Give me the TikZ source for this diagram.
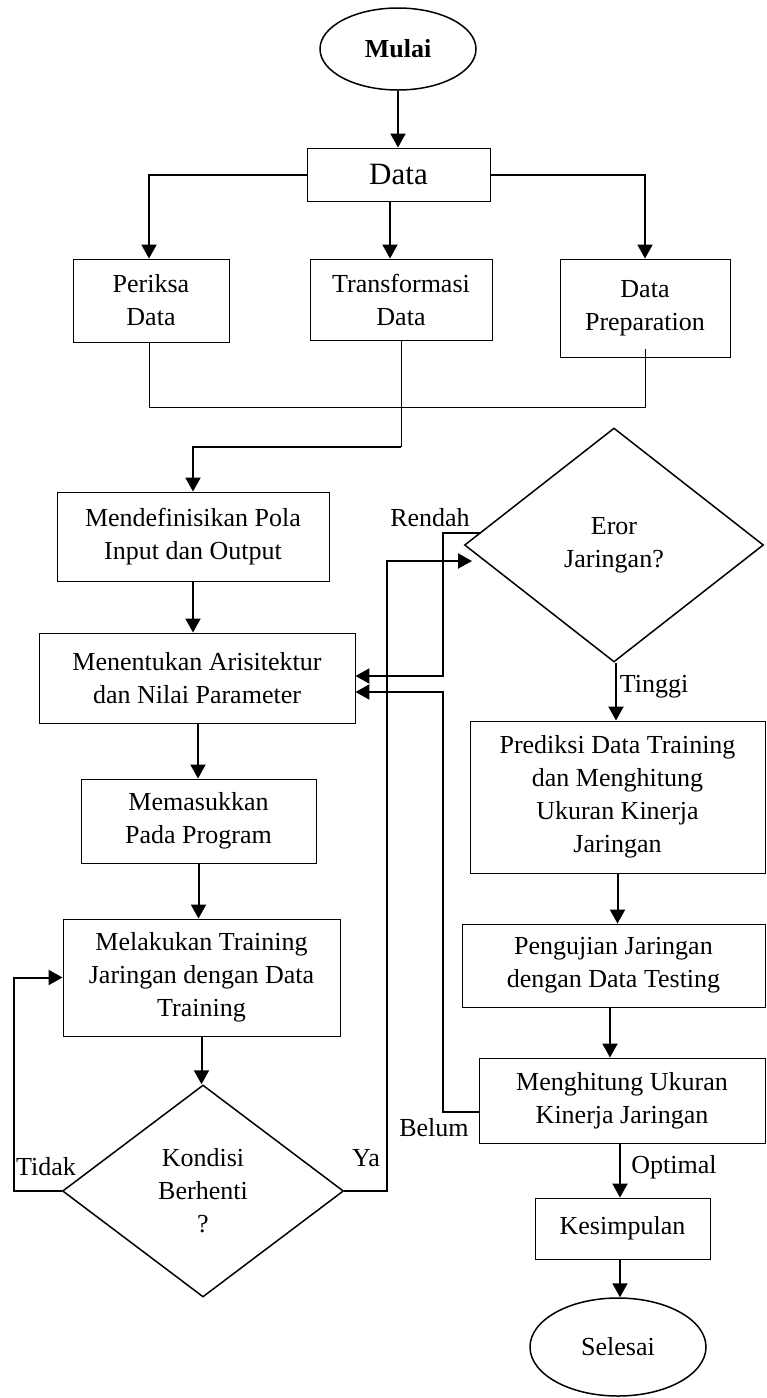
\documentclass[tikz,border=0pt]{standalone}
\usepackage{fontspec}
\setmainfont{Liberation Serif}
\usetikzlibrary{shapes.geometric,arrows.meta}
\begin{document}
\begin{tikzpicture}[x=1pt,y=-1pt,
  txt/.style={font=\fontsize{26}{33}\selectfont},
  box/.style={draw,line width=0.9pt,inner sep=0pt,align=center,txt},
  dia/.style={draw,diamond,line width=1.5pt,inner sep=0pt,align=center,txt},
  oval/.style={draw,ellipse,line width=1.5pt,inner sep=0pt,txt},
  arr/.style={line width=2pt,-{Triangle[length=14pt,width=15pt]}},
  thinline/.style={line width=0.9pt},
  lbl/.style={inner sep=0pt,txt}]
\useasboundingbox (0,0) rectangle (766,1398);
% nodes
\node[oval,minimum width=156pt,minimum height=82pt,font=\fontsize{26}{33}\selectfont\bfseries] (mulai) at (398,49) {Mulai};
\node[box,minimum width=183pt,minimum height=53pt,font=\fontsize{31}{36}\selectfont] (data) at (398.5,174.5) {Data};
\node[box,minimum width=156pt,minimum height=83pt] (periksa) at (151,300.5) {Periksa\\Data};
\node[box,minimum width=182pt,minimum height=81pt] (transf) at (401,299.5) {Transformasi\\Data};
\node[box,minimum width=170pt,minimum height=98pt] (dprep) at (645,308) {Data\\Preparation};
\node[box,minimum width=272pt,minimum height=89pt] (mendef) at (193,536.5) {Mendefinisikan Pola\\Input dan Output};
\node[box,minimum width=316pt,minimum height=90pt] (menent) at (197,678) {Menentukan Arisitektur\\dan Nilai Parameter};
\node[box,minimum width=235pt,minimum height=84pt] (memas) at (198.5,821) {Memasukkan\\Pada Program};
\node[box,minimum width=277pt,minimum height=117pt] (melak) at (201.5,977.5) {Melakukan Training\\Jaringan dengan Data\\Training};
\node[dia,minimum width=281pt,minimum height=212pt] (kondisi) at (203,1191) {Kondisi\\Berhenti\\?};
\node[dia,minimum width=299pt,minimum height=234pt] (eror) at (614,545) {Eror\\Jaringan?};
\node[box,minimum width=295pt,minimum height=152pt] (prediksi) at (617.5,797) {Prediksi Data Training\\dan Menghitung\\Ukuran Kinerja\\Jaringan};
\node[box,minimum width=303pt,minimum height=83pt] (penguj) at (613.5,965.5) {Pengujian Jaringan\\dengan Data Testing};
\node[box,minimum width=286pt,minimum height=85pt] (menghit) at (622,1100.5) {Menghitung Ukuran\\Kinerja Jaringan};
\node[box,minimum width=175pt,minimum height=61pt] (kesimp) at (622.5,1228.5) {Kesimpulan};
\node[oval,minimum width=176pt,minimum height=98pt] (selesai) at (618,1347) {Selesai};
% coordinates
\coordinate (jl) at (149,407);
\coordinate (jr) at (645,407);
\coordinate (jm) at (401,447);
\coordinate (rstart) at (481,533);
\coordinate (yatip) at (472,561);
% labels
\node[lbl] (lrendah) at (430,518) {Rendah};
\node[lbl] (ltinggi) at (654,687) {Tinggi};
\node[lbl] (lbelum) at (434,1128) {Belum};
\node[lbl] (ltidak) at (46,1167) {Tidak};
\node[lbl] (lya) at (366,1158) {Ya};
\node[lbl] (loptimal) at (674,1167) {Optimal};
% connectors
\draw[arr] (mulai.south) -- (mulai.south |- data.north);
\draw[arr] (data.west) -| ([xshift=-2pt]periksa.north);
\draw[arr] ([xshift=-8.5pt]data.south) -- ([xshift=-8.5pt]data.south |- transf.north);
\draw[arr] (data.east) -| (dprep.north);
\draw[thinline] ([xshift=-2pt]periksa.south) -- (jl) -- (jr) -- ([yshift=8pt]dprep.south);
\draw[thinline] (transf.south) -- (jm);
\draw[arr] (jm) -| (mendef.north);
\draw[arr] (mendef.south) -- (mendef.south |- menent.north);
\draw[arr] ([xshift=1pt]menent.south) -- ([xshift=1pt]menent.south |- memas.north);
\draw[arr] (memas.south) -- (memas.south |- melak.north);
\draw[arr] (melak.south) -- (melak.south |- kondisi.north);
\draw[arr] (kondisi.west) -- ++(-48,0) |- (melak.west);
\draw[arr] (kondisi.east) -- ++(43,0) |- (yatip);
\draw[arr] (rstart) -- (443,533) |- ([yshift=2pt]menent.east);
\draw[arr] ([yshift=-11.5pt]menghit.west) -| (443,692) -- ([yshift=-14pt]menent.east);
\draw[arr] ([xshift=2pt]eror.south) -- ([xshift=2pt]eror.south |- prediksi.north);
\draw[arr] (prediksi.south) -- (prediksi.south |- penguj.north);
\draw[arr] ([xshift=-3.5pt]penguj.south) -- ([xshift=-3.5pt]penguj.south |- menghit.north);
\draw[arr] ([xshift=-2pt]menghit.south) -- ([xshift=-2pt]menghit.south |- kesimp.north);
\draw[arr] ([xshift=-2.5pt]kesimp.south) -- ([xshift=-2.5pt]kesimp.south |- selesai.north);
\end{tikzpicture}
\end{document}
